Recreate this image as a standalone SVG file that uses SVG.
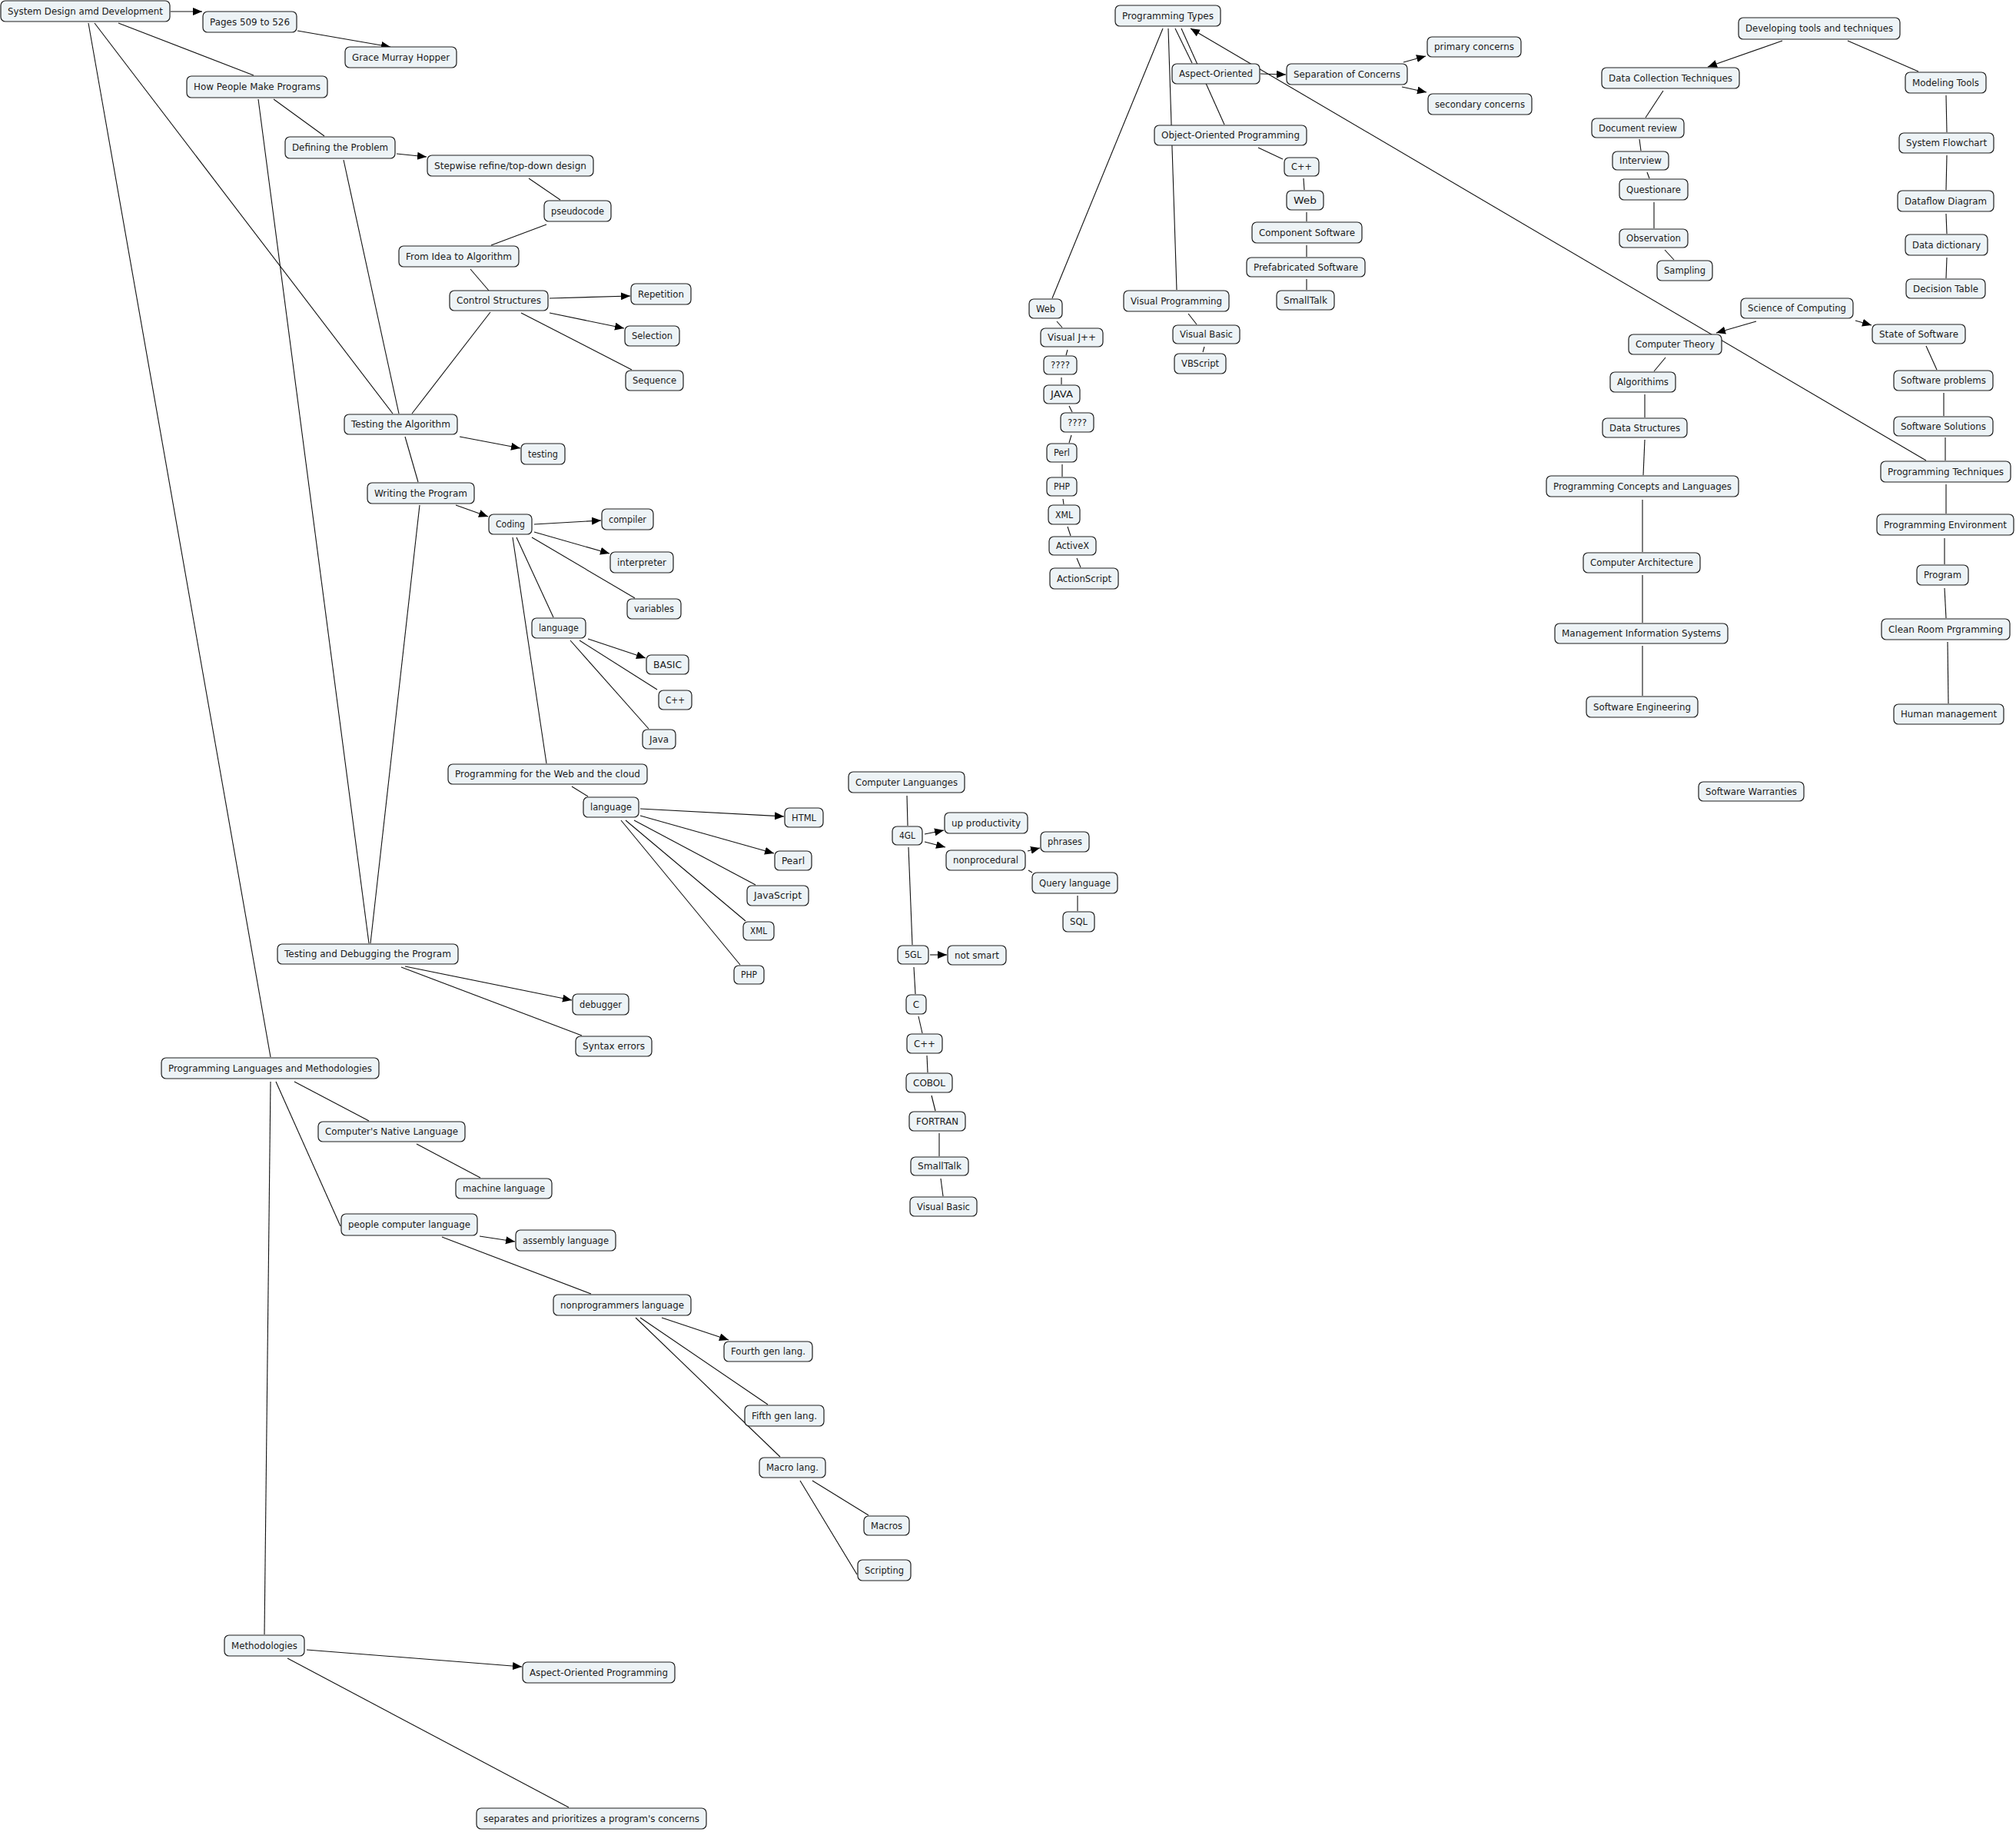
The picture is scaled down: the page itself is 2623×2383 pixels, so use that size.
<svg xmlns="http://www.w3.org/2000/svg" width="2623" height="2383" viewBox="0 0 2623 2383">
<style>
.node rect{fill:#edf3f6;stroke:#1e1e1e;stroke-width:1.2}
.node text{font-family:"DejaVu Sans","Liberation Sans",sans-serif;font-size:12px;fill:#1a1a1a;text-anchor:middle}
.links line{stroke:#111;stroke-width:1.1;fill:none}
.links line.arr{marker-end:url(#ah)}
</style>
<defs>
<marker id="ah" markerUnits="userSpaceOnUse" markerWidth="13" markerHeight="11" refX="12" refY="5" orient="auto"><path d="M0,0 L12,5 L0,10 Z" fill="#000"/></marker>
</defs>
<rect width="2623" height="2383" fill="#fff"/>
<g class="links">
<line class="arr" x1="222" y1="15" x2="263" y2="15"/>
<line class="arr" x1="387" y1="40" x2="508" y2="61"/>
<line class="arr" x1="516" y1="200" x2="555" y2="204"/>
<line class="arr" x1="715" y1="388" x2="820" y2="385"/>
<line class="arr" x1="715" y1="407" x2="812" y2="427"/>
<line class="arr" x1="598" y1="568" x2="677" y2="583"/>
<line class="arr" x1="593" y1="657" x2="635" y2="672"/>
<line class="arr" x1="695" y1="682" x2="782" y2="677"/>
<line class="arr" x1="695" y1="692" x2="793" y2="720"/>
<line class="arr" x1="765" y1="831" x2="840" y2="856"/>
<line class="arr" x1="833" y1="1052" x2="1020" y2="1062"/>
<line class="arr" x1="833" y1="1061" x2="1007" y2="1110"/>
<line class="arr" x1="527" y1="1257" x2="744" y2="1301"/>
<line class="arr" x1="624" y1="1608" x2="670" y2="1615"/>
<line class="arr" x1="861" y1="1714" x2="948" y2="1743"/>
<line class="arr" x1="399" y1="2146" x2="679" y2="2168"/>
<line class="arr" x1="1640" y1="96" x2="1673" y2="97"/>
<line class="arr" x1="1826" y1="81" x2="1855" y2="73"/>
<line class="arr" x1="1824" y1="113" x2="1856" y2="120"/>
<line class="arr" x1="2506" y1="599" x2="1549" y2="37"/>
<line class="arr" x1="2319" y1="53" x2="2222" y2="87"/>
<line class="arr" x1="2285" y1="418" x2="2233" y2="433"/>
<line class="arr" x1="2414" y1="417" x2="2435" y2="423"/>
<line class="arr" x1="1203" y1="1085" x2="1228" y2="1080"/>
<line class="arr" x1="1203" y1="1095" x2="1230" y2="1102"/>
<line class="arr" x1="1337" y1="1107" x2="1353" y2="1103"/>
<line class="arr" x1="1210" y1="1242" x2="1232" y2="1242"/>
<line x1="154" y1="30" x2="330" y2="98"/>
<line x1="123" y1="30" x2="511" y2="538"/>
<line x1="115" y1="30" x2="352" y2="1375"/>
<line x1="356" y1="129" x2="422" y2="177"/>
<line x1="336" y1="129" x2="480" y2="1227"/>
<line x1="447" y1="208" x2="519" y2="538"/>
<line x1="688" y1="232" x2="729" y2="260"/>
<line x1="711" y1="292" x2="639" y2="319"/>
<line x1="612" y1="350" x2="636" y2="378"/>
<line x1="678" y1="407" x2="822" y2="481"/>
<line x1="638" y1="406" x2="536" y2="538"/>
<line x1="527" y1="568" x2="544" y2="627"/>
<line x1="546" y1="657" x2="482" y2="1227"/>
<line x1="692" y1="699" x2="826" y2="778"/>
<line x1="672" y1="699" x2="720" y2="803"/>
<line x1="667" y1="699" x2="711" y2="993"/>
<line x1="754" y1="833" x2="855" y2="897"/>
<line x1="742" y1="833" x2="844" y2="948"/>
<line x1="744" y1="1023" x2="765" y2="1036"/>
<line x1="825" y1="1067" x2="983" y2="1151"/>
<line x1="814" y1="1067" x2="970" y2="1198"/>
<line x1="808" y1="1067" x2="963" y2="1255"/>
<line x1="522" y1="1258" x2="757" y2="1347"/>
<line x1="383" y1="1407" x2="480" y2="1458"/>
<line x1="359" y1="1407" x2="443" y2="1595"/>
<line x1="352" y1="1407" x2="344" y2="2126"/>
<line x1="542" y1="1488" x2="625" y2="1532"/>
<line x1="575" y1="1609" x2="769" y2="1683"/>
<line x1="833" y1="1714" x2="999" y2="1827"/>
<line x1="827" y1="1714" x2="1015" y2="1895"/>
<line x1="1057" y1="1926" x2="1130" y2="1971"/>
<line x1="1041" y1="1926" x2="1115" y2="2048"/>
<line x1="374" y1="2157" x2="740" y2="2351"/>
<line x1="1513" y1="37" x2="1369" y2="388"/>
<line x1="1520" y1="37" x2="1531" y2="377"/>
<line x1="1529" y1="37" x2="1551" y2="82"/>
<line x1="1537" y1="37" x2="1593" y2="162"/>
<line x1="1637" y1="192" x2="1669" y2="207"/>
<line x1="1696" y1="232" x2="1697" y2="247"/>
<line x1="1700" y1="276" x2="1700" y2="288"/>
<line x1="1700" y1="319" x2="1700" y2="334"/>
<line x1="1700" y1="363" x2="1700" y2="377"/>
<line x1="1546" y1="408" x2="1557" y2="422"/>
<line x1="1567" y1="451" x2="1565" y2="458"/>
<line x1="1375" y1="418" x2="1382" y2="426"/>
<line x1="1389" y1="455" x2="1387" y2="462"/>
<line x1="1381" y1="491" x2="1381" y2="500"/>
<line x1="1391" y1="528" x2="1395" y2="536"/>
<line x1="1394" y1="566" x2="1391" y2="576"/>
<line x1="1382" y1="604" x2="1382" y2="620"/>
<line x1="1383" y1="649" x2="1384" y2="656"/>
<line x1="1389" y1="685" x2="1393" y2="697"/>
<line x1="1401" y1="726" x2="1406" y2="738"/>
<line x1="1180" y1="1035" x2="1181" y2="1074"/>
<line x1="1338" y1="1132" x2="1343" y2="1135"/>
<line x1="1402" y1="1165" x2="1402" y2="1185"/>
<line x1="1182" y1="1102" x2="1187" y2="1229"/>
<line x1="1189" y1="1258" x2="1191" y2="1293"/>
<line x1="1195" y1="1322" x2="1200" y2="1344"/>
<line x1="1206" y1="1373" x2="1207" y2="1395"/>
<line x1="1212" y1="1425" x2="1217" y2="1445"/>
<line x1="1222" y1="1474" x2="1222" y2="1504"/>
<line x1="1224" y1="1533" x2="1227" y2="1556"/>
<line x1="2404" y1="53" x2="2496" y2="93"/>
<line x1="2164" y1="118" x2="2141" y2="153"/>
<line x1="2133" y1="181" x2="2135" y2="196"/>
<line x1="2143" y1="224" x2="2146" y2="232"/>
<line x1="2152" y1="263" x2="2152" y2="297"/>
<line x1="2166" y1="325" x2="2178" y2="338"/>
<line x1="2532" y1="124" x2="2533" y2="172"/>
<line x1="2533" y1="202" x2="2532" y2="247"/>
<line x1="2532" y1="278" x2="2533" y2="304"/>
<line x1="2533" y1="335" x2="2532" y2="362"/>
<line x1="2167" y1="465" x2="2152" y2="483"/>
<line x1="2140" y1="513" x2="2140" y2="543"/>
<line x1="2140" y1="572" x2="2138" y2="618"/>
<line x1="2137" y1="650" x2="2137" y2="718"/>
<line x1="2137" y1="748" x2="2137" y2="810"/>
<line x1="2137" y1="840" x2="2137" y2="905"/>
<line x1="2506" y1="450" x2="2520" y2="481"/>
<line x1="2529" y1="511" x2="2529" y2="541"/>
<line x1="2531" y1="569" x2="2531" y2="599"/>
<line x1="2532" y1="630" x2="2532" y2="668"/>
<line x1="2530" y1="700" x2="2530" y2="734"/>
<line x1="2530" y1="765" x2="2532" y2="804"/>
<line x1="2534" y1="835" x2="2535" y2="915"/>
</g>
<g id="n-sys" class="node"><rect x="1" y="1" width="220" height="27" rx="6"/><text x="111" y="18.8" textLength="202" lengthAdjust="spacingAndGlyphs">System Design amd Development</text></g>
<g id="n-pages" class="node"><rect x="264" y="15" width="122" height="27" rx="6"/><text x="325" y="32.8" textLength="104" lengthAdjust="spacingAndGlyphs">Pages 509 to 526</text></g>
<g id="n-grace" class="node"><rect x="449" y="61" width="145" height="27" rx="6"/><text x="521.5" y="78.8" textLength="127" lengthAdjust="spacingAndGlyphs">Grace Murray Hopper</text></g>
<g id="n-how" class="node"><rect x="243" y="99" width="183" height="28" rx="6"/><text x="334.5" y="117.3" textLength="165" lengthAdjust="spacingAndGlyphs">How People Make Programs</text></g>
<g id="n-defining" class="node"><rect x="371" y="178" width="143" height="28" rx="6"/><text x="442.5" y="196.3" textLength="125" lengthAdjust="spacingAndGlyphs">Defining the Problem</text></g>
<g id="n-stepwise" class="node"><rect x="556" y="202" width="216" height="27" rx="6"/><text x="664" y="219.8" textLength="198" lengthAdjust="spacingAndGlyphs">Stepwise refine/top-down design</text></g>
<g id="n-pseudo" class="node"><rect x="708" y="261" width="87" height="27" rx="6"/><text x="751.5" y="278.8" textLength="69" lengthAdjust="spacingAndGlyphs">pseudocode</text></g>
<g id="n-fromidea" class="node"><rect x="519" y="320" width="156" height="27" rx="6"/><text x="597" y="337.8" textLength="138" lengthAdjust="spacingAndGlyphs">From Idea to Algorithm</text></g>
<g id="n-control" class="node"><rect x="585" y="378" width="128" height="26" rx="6"/><text x="649" y="395.3" textLength="110" lengthAdjust="spacingAndGlyphs">Control Structures</text></g>
<g id="n-repetition" class="node"><rect x="821" y="369" width="78" height="27" rx="6"/><text x="860" y="386.8" textLength="60" lengthAdjust="spacingAndGlyphs">Repetition</text></g>
<g id="n-selection" class="node"><rect x="813" y="424" width="71" height="26" rx="6"/><text x="848.5" y="441.3" textLength="53" lengthAdjust="spacingAndGlyphs">Selection</text></g>
<g id="n-sequence" class="node"><rect x="814" y="482" width="75" height="26" rx="6"/><text x="851.5" y="499.3" textLength="57" lengthAdjust="spacingAndGlyphs">Sequence</text></g>
<g id="n-testalg" class="node"><rect x="448" y="539" width="147" height="26" rx="6"/><text x="521.5" y="556.3" textLength="129" lengthAdjust="spacingAndGlyphs">Testing the Algorithm</text></g>
<g id="n-testing" class="node"><rect x="678" y="577" width="57" height="27" rx="6"/><text x="706.5" y="594.8" textLength="39" lengthAdjust="spacingAndGlyphs">testing</text></g>
<g id="n-writing" class="node"><rect x="478" y="628" width="139" height="27" rx="6"/><text x="547.5" y="645.8" textLength="121" lengthAdjust="spacingAndGlyphs">Writing the Program</text></g>
<g id="n-coding" class="node"><rect x="636" y="669" width="56" height="26" rx="6"/><text x="664" y="686.3" textLength="38" lengthAdjust="spacingAndGlyphs">Coding</text></g>
<g id="n-compiler" class="node"><rect x="783" y="662" width="67" height="27" rx="6"/><text x="816.5" y="679.8" textLength="49" lengthAdjust="spacingAndGlyphs">compiler</text></g>
<g id="n-interpreter" class="node"><rect x="794" y="718" width="82" height="27" rx="6"/><text x="835" y="735.8" textLength="64" lengthAdjust="spacingAndGlyphs">interpreter</text></g>
<g id="n-variables" class="node"><rect x="816" y="779" width="70" height="26" rx="6"/><text x="851" y="796.3" textLength="52" lengthAdjust="spacingAndGlyphs">variables</text></g>
<g id="n-lang1" class="node"><rect x="692" y="804" width="70" height="26" rx="6"/><text x="727" y="821.3" textLength="52" lengthAdjust="spacingAndGlyphs">language</text></g>
<g id="n-basic" class="node"><rect x="841" y="852" width="55" height="25" rx="6"/><text x="868.5" y="868.8" textLength="37" lengthAdjust="spacingAndGlyphs">BASIC</text></g>
<g id="n-cpp1" class="node"><rect x="857" y="898" width="43" height="25" rx="6"/><text x="878.5" y="914.8" textLength="25" lengthAdjust="spacingAndGlyphs">C++</text></g>
<g id="n-java" class="node"><rect x="836" y="949" width="43" height="25" rx="6"/><text x="857.5" y="965.8" textLength="25" lengthAdjust="spacingAndGlyphs">Java</text></g>
<g id="n-webcloud" class="node"><rect x="583" y="994" width="259" height="26" rx="6"/><text x="712.5" y="1011.3" textLength="241" lengthAdjust="spacingAndGlyphs">Programming for the Web and the cloud</text></g>
<g id="n-lang2" class="node"><rect x="759" y="1037" width="72" height="26" rx="6"/><text x="795" y="1054.3" textLength="54" lengthAdjust="spacingAndGlyphs">language</text></g>
<g id="n-html" class="node"><rect x="1021" y="1051" width="50" height="25" rx="6"/><text x="1046" y="1067.8" textLength="32" lengthAdjust="spacingAndGlyphs">HTML</text></g>
<g id="n-pearl" class="node"><rect x="1008" y="1107" width="48" height="25" rx="6"/><text x="1032" y="1123.8" textLength="30" lengthAdjust="spacingAndGlyphs">Pearl</text></g>
<g id="n-javascript" class="node"><rect x="972" y="1152" width="80" height="26" rx="6"/><text x="1012" y="1169.3" textLength="62" lengthAdjust="spacingAndGlyphs">JavaScript</text></g>
<g id="n-xml1" class="node"><rect x="967" y="1199" width="40" height="24" rx="6"/><text x="987" y="1215.3" textLength="22" lengthAdjust="spacingAndGlyphs">XML</text></g>
<g id="n-php1" class="node"><rect x="955" y="1256" width="39" height="24" rx="6"/><text x="974.5" y="1272.3" textLength="21" lengthAdjust="spacingAndGlyphs">PHP</text></g>
<g id="n-testdebug" class="node"><rect x="361" y="1228" width="235" height="26" rx="6"/><text x="478.5" y="1245.3" textLength="217" lengthAdjust="spacingAndGlyphs">Testing and Debugging the Program</text></g>
<g id="n-debugger" class="node"><rect x="745" y="1293" width="73" height="27" rx="6"/><text x="781.5" y="1310.8" textLength="55" lengthAdjust="spacingAndGlyphs">debugger</text></g>
<g id="n-syntax" class="node"><rect x="749" y="1348" width="99" height="26" rx="6"/><text x="798.5" y="1365.3" textLength="81" lengthAdjust="spacingAndGlyphs">Syntax errors</text></g>
<g id="n-plm" class="node"><rect x="210" y="1376" width="283" height="27" rx="6"/><text x="351.5" y="1393.8" textLength="265" lengthAdjust="spacingAndGlyphs">Programming Languages and Methodologies</text></g>
<g id="n-cnl" class="node"><rect x="414" y="1459" width="191" height="26" rx="6"/><text x="509.5" y="1476.3" textLength="173" lengthAdjust="spacingAndGlyphs">Computer's Native Language</text></g>
<g id="n-machine" class="node"><rect x="593" y="1533" width="125" height="26" rx="6"/><text x="655.5" y="1550.3" textLength="107" lengthAdjust="spacingAndGlyphs">machine language</text></g>
<g id="n-pcl" class="node"><rect x="444" y="1579" width="177" height="28" rx="6"/><text x="532.5" y="1597.3" textLength="159" lengthAdjust="spacingAndGlyphs">people computer language</text></g>
<g id="n-assembly" class="node"><rect x="671" y="1600" width="130" height="27" rx="6"/><text x="736" y="1617.8" textLength="112" lengthAdjust="spacingAndGlyphs">assembly language</text></g>
<g id="n-nonprog" class="node"><rect x="720" y="1684" width="179" height="27" rx="6"/><text x="809.5" y="1701.8" textLength="161" lengthAdjust="spacingAndGlyphs">nonprogrammers language</text></g>
<g id="n-fourth" class="node"><rect x="942" y="1745" width="115" height="26" rx="6"/><text x="999.5" y="1762.3" textLength="97" lengthAdjust="spacingAndGlyphs">Fourth gen lang.</text></g>
<g id="n-fifth" class="node"><rect x="969" y="1828" width="103" height="27" rx="6"/><text x="1020.5" y="1845.8" textLength="85" lengthAdjust="spacingAndGlyphs">Fifth gen lang.</text></g>
<g id="n-macro" class="node"><rect x="988" y="1896" width="86" height="26" rx="6"/><text x="1031" y="1913.3" textLength="68" lengthAdjust="spacingAndGlyphs">Macro lang.</text></g>
<g id="n-macros" class="node"><rect x="1124" y="1972" width="59" height="25" rx="6"/><text x="1153.5" y="1988.8" textLength="41" lengthAdjust="spacingAndGlyphs">Macros</text></g>
<g id="n-scripting" class="node"><rect x="1116" y="2029" width="69" height="27" rx="6"/><text x="1150.5" y="2046.8" textLength="51" lengthAdjust="spacingAndGlyphs">Scripting</text></g>
<g id="n-meth" class="node"><rect x="292" y="2127" width="104" height="27" rx="6"/><text x="344" y="2144.8" textLength="86" lengthAdjust="spacingAndGlyphs">Methodologies</text></g>
<g id="n-aop" class="node"><rect x="680" y="2162" width="198" height="27" rx="6"/><text x="779" y="2179.8" textLength="180" lengthAdjust="spacingAndGlyphs">Aspect-Oriented Programming</text></g>
<g id="n-separates" class="node"><rect x="620" y="2352" width="299" height="27" rx="6"/><text x="769.5" y="2369.8" textLength="281" lengthAdjust="spacingAndGlyphs">separates and prioritizes a program's concerns</text></g>
<g id="n-ptypes" class="node"><rect x="1451" y="7" width="137" height="27" rx="6"/><text x="1519.5" y="24.8" textLength="119" lengthAdjust="spacingAndGlyphs">Programming Types</text></g>
<g id="n-aspect" class="node"><rect x="1525" y="83" width="114" height="26" rx="6"/><text x="1582" y="100.3" textLength="96" lengthAdjust="spacingAndGlyphs">Aspect-Oriented</text></g>
<g id="n-sepconc" class="node"><rect x="1674" y="83" width="157" height="27" rx="6"/><text x="1752.5" y="100.8" textLength="139" lengthAdjust="spacingAndGlyphs">Separation of Concerns</text></g>
<g id="n-primary" class="node"><rect x="1857" y="48" width="122" height="26" rx="6"/><text x="1918" y="65.3" textLength="104" lengthAdjust="spacingAndGlyphs">primary concerns</text></g>
<g id="n-secondary" class="node"><rect x="1858" y="122" width="135" height="27" rx="6"/><text x="1925.5" y="139.8" textLength="117" lengthAdjust="spacingAndGlyphs">secondary concerns</text></g>
<g id="n-oop" class="node"><rect x="1502" y="163" width="198" height="26" rx="6"/><text x="1601" y="180.3" textLength="180" lengthAdjust="spacingAndGlyphs">Object-Oriented Programming</text></g>
<g id="n-cpp2" class="node"><rect x="1671" y="205" width="45" height="24" rx="6"/><text x="1693.5" y="221.3" textLength="27" lengthAdjust="spacingAndGlyphs">C++</text></g>
<g id="n-web2" class="node"><rect x="1674" y="248" width="48" height="25" rx="6"/><text x="1698" y="264.8" textLength="30" lengthAdjust="spacingAndGlyphs">Web</text></g>
<g id="n-component" class="node"><rect x="1629" y="289" width="143" height="27" rx="6"/><text x="1700.5" y="306.8" textLength="125" lengthAdjust="spacingAndGlyphs">Component Software</text></g>
<g id="n-prefab" class="node"><rect x="1622" y="335" width="154" height="25" rx="6"/><text x="1699" y="351.8" textLength="136" lengthAdjust="spacingAndGlyphs">Prefabricated Software</text></g>
<g id="n-smalltalk1" class="node"><rect x="1661" y="378" width="75" height="25" rx="6"/><text x="1698.5" y="394.8" textLength="57" lengthAdjust="spacingAndGlyphs">SmallTalk</text></g>
<g id="n-visprog" class="node"><rect x="1462" y="378" width="137" height="27" rx="6"/><text x="1530.5" y="395.8" textLength="119" lengthAdjust="spacingAndGlyphs">Visual Programming</text></g>
<g id="n-visbasic1" class="node"><rect x="1526" y="423" width="87" height="24" rx="6"/><text x="1569.5" y="439.3" textLength="69" lengthAdjust="spacingAndGlyphs">Visual Basic</text></g>
<g id="n-vbscript" class="node"><rect x="1528" y="460" width="67" height="26" rx="6"/><text x="1561.5" y="477.3" textLength="49" lengthAdjust="spacingAndGlyphs">VBScript</text></g>
<g id="n-web1" class="node"><rect x="1339" y="389" width="43" height="25" rx="6"/><text x="1360.5" y="405.8" textLength="25" lengthAdjust="spacingAndGlyphs">Web</text></g>
<g id="n-vjpp" class="node"><rect x="1354" y="427" width="81" height="24" rx="6"/><text x="1394.5" y="443.3" textLength="63" lengthAdjust="spacingAndGlyphs">Visual J++</text></g>
<g id="n-q1" class="node"><rect x="1358" y="463" width="43" height="24" rx="6"/><text x="1379.5" y="479.3" textLength="25" lengthAdjust="spacingAndGlyphs">????</text></g>
<g id="n-java2" class="node"><rect x="1358" y="501" width="47" height="24" rx="6"/><text x="1381.5" y="517.3" textLength="29" lengthAdjust="spacingAndGlyphs">JAVA</text></g>
<g id="n-q2" class="node"><rect x="1380" y="537" width="43" height="25" rx="6"/><text x="1401.5" y="553.8" textLength="25" lengthAdjust="spacingAndGlyphs">????</text></g>
<g id="n-perl" class="node"><rect x="1362" y="577" width="39" height="24" rx="6"/><text x="1381.5" y="593.3" textLength="21" lengthAdjust="spacingAndGlyphs">Perl</text></g>
<g id="n-php2" class="node"><rect x="1362" y="621" width="39" height="24" rx="6"/><text x="1381.5" y="637.3" textLength="21" lengthAdjust="spacingAndGlyphs">PHP</text></g>
<g id="n-xml2" class="node"><rect x="1364" y="657" width="41" height="25" rx="6"/><text x="1384.5" y="673.8" textLength="23" lengthAdjust="spacingAndGlyphs">XML</text></g>
<g id="n-activex" class="node"><rect x="1365" y="698" width="61" height="24" rx="6"/><text x="1395.5" y="714.3" textLength="43" lengthAdjust="spacingAndGlyphs">ActiveX</text></g>
<g id="n-actionscript" class="node"><rect x="1366" y="739" width="89" height="27" rx="6"/><text x="1410.5" y="756.8" textLength="71" lengthAdjust="spacingAndGlyphs">ActionScript</text></g>
<g id="n-complang" class="node"><rect x="1104" y="1004" width="151" height="27" rx="6"/><text x="1179.5" y="1021.8" textLength="133" lengthAdjust="spacingAndGlyphs">Computer Languanges</text></g>
<g id="n-4gl" class="node"><rect x="1161" y="1075" width="39" height="24" rx="6"/><text x="1180.5" y="1091.3" textLength="21" lengthAdjust="spacingAndGlyphs">4GL</text></g>
<g id="n-upprod" class="node"><rect x="1229" y="1057" width="108" height="27" rx="6"/><text x="1283" y="1074.8" textLength="90" lengthAdjust="spacingAndGlyphs">up productivity</text></g>
<g id="n-nonproc" class="node"><rect x="1231" y="1106" width="103" height="26" rx="6"/><text x="1282.5" y="1123.3" textLength="85" lengthAdjust="spacingAndGlyphs">nonprocedural</text></g>
<g id="n-phrases" class="node"><rect x="1354" y="1082" width="63" height="26" rx="6"/><text x="1385.5" y="1099.3" textLength="45" lengthAdjust="spacingAndGlyphs">phrases</text></g>
<g id="n-query" class="node"><rect x="1343" y="1135" width="111" height="27" rx="6"/><text x="1398.5" y="1152.8" textLength="93" lengthAdjust="spacingAndGlyphs">Query language</text></g>
<g id="n-sql" class="node"><rect x="1383" y="1186" width="41" height="26" rx="6"/><text x="1403.5" y="1203.3" textLength="23" lengthAdjust="spacingAndGlyphs">SQL</text></g>
<g id="n-5gl" class="node"><rect x="1168" y="1230" width="40" height="24" rx="6"/><text x="1188" y="1246.3" textLength="22" lengthAdjust="spacingAndGlyphs">5GL</text></g>
<g id="n-notsmart" class="node"><rect x="1233" y="1230" width="76" height="25" rx="6"/><text x="1271" y="1246.8" textLength="58" lengthAdjust="spacingAndGlyphs">not smart</text></g>
<g id="n-c" class="node"><rect x="1179" y="1294" width="26" height="25" rx="6"/><text x="1192" y="1310.8">C</text></g>
<g id="n-cpp3" class="node"><rect x="1180" y="1345" width="46" height="25" rx="6"/><text x="1203" y="1361.8" textLength="28" lengthAdjust="spacingAndGlyphs">C++</text></g>
<g id="n-cobol" class="node"><rect x="1179" y="1396" width="60" height="25" rx="6"/><text x="1209" y="1412.8" textLength="42" lengthAdjust="spacingAndGlyphs">COBOL</text></g>
<g id="n-fortran" class="node"><rect x="1183" y="1446" width="73" height="25" rx="6"/><text x="1219.5" y="1462.8" textLength="55" lengthAdjust="spacingAndGlyphs">FORTRAN</text></g>
<g id="n-smalltalk2" class="node"><rect x="1185" y="1505" width="75" height="24" rx="6"/><text x="1222.5" y="1521.3" textLength="57" lengthAdjust="spacingAndGlyphs">SmallTalk</text></g>
<g id="n-visbasic2" class="node"><rect x="1184" y="1557" width="87" height="25" rx="6"/><text x="1227.5" y="1573.8" textLength="69" lengthAdjust="spacingAndGlyphs">Visual Basic</text></g>
<g id="n-devtools" class="node"><rect x="2262" y="23" width="210" height="28" rx="6"/><text x="2367" y="41.3" textLength="192" lengthAdjust="spacingAndGlyphs">Developing tools and techniques</text></g>
<g id="n-dct" class="node"><rect x="2084" y="88" width="179" height="27" rx="6"/><text x="2173.5" y="105.8" textLength="161" lengthAdjust="spacingAndGlyphs">Data Collection Techniques</text></g>
<g id="n-modeling" class="node"><rect x="2479" y="94" width="105" height="27" rx="6"/><text x="2531.5" y="111.8" textLength="87" lengthAdjust="spacingAndGlyphs">Modeling Tools</text></g>
<g id="n-docreview" class="node"><rect x="2071" y="154" width="120" height="25" rx="6"/><text x="2131" y="170.8" textLength="102" lengthAdjust="spacingAndGlyphs">Document review</text></g>
<g id="n-interview" class="node"><rect x="2098" y="197" width="73" height="24" rx="6"/><text x="2134.5" y="213.3" textLength="55" lengthAdjust="spacingAndGlyphs">Interview</text></g>
<g id="n-questionare" class="node"><rect x="2107" y="233" width="89" height="27" rx="6"/><text x="2151.5" y="250.8" textLength="71" lengthAdjust="spacingAndGlyphs">Questionare</text></g>
<g id="n-observation" class="node"><rect x="2107" y="298" width="89" height="24" rx="6"/><text x="2151.5" y="314.3" textLength="71" lengthAdjust="spacingAndGlyphs">Observation</text></g>
<g id="n-sampling" class="node"><rect x="2156" y="339" width="72" height="26" rx="6"/><text x="2192" y="356.3" textLength="54" lengthAdjust="spacingAndGlyphs">Sampling</text></g>
<g id="n-sysflow" class="node"><rect x="2471" y="173" width="123" height="26" rx="6"/><text x="2532.5" y="190.3" textLength="105" lengthAdjust="spacingAndGlyphs">System Flowchart</text></g>
<g id="n-dataflow" class="node"><rect x="2469" y="248" width="125" height="27" rx="6"/><text x="2531.5" y="265.8" textLength="107" lengthAdjust="spacingAndGlyphs">Dataflow Diagram</text></g>
<g id="n-datadict" class="node"><rect x="2479" y="305" width="107" height="27" rx="6"/><text x="2532.5" y="322.8" textLength="89" lengthAdjust="spacingAndGlyphs">Data dictionary</text></g>
<g id="n-decision" class="node"><rect x="2480" y="363" width="103" height="25" rx="6"/><text x="2531.5" y="379.8" textLength="85" lengthAdjust="spacingAndGlyphs">Decision Table</text></g>
<g id="n-soc" class="node"><rect x="2265" y="388" width="146" height="26" rx="6"/><text x="2338" y="405.3" textLength="128" lengthAdjust="spacingAndGlyphs">Science of Computing</text></g>
<g id="n-sos" class="node"><rect x="2436" y="422" width="121" height="25" rx="6"/><text x="2496.5" y="438.8" textLength="103" lengthAdjust="spacingAndGlyphs">State of Software</text></g>
<g id="n-ctheory" class="node"><rect x="2119" y="435" width="121" height="26" rx="6"/><text x="2179.5" y="452.3" textLength="103" lengthAdjust="spacingAndGlyphs">Computer Theory</text></g>
<g id="n-algo" class="node"><rect x="2095" y="484" width="85" height="26" rx="6"/><text x="2137.5" y="501.3" textLength="67" lengthAdjust="spacingAndGlyphs">Algorithims</text></g>
<g id="n-ds" class="node"><rect x="2085" y="544" width="110" height="25" rx="6"/><text x="2140" y="560.8" textLength="92" lengthAdjust="spacingAndGlyphs">Data Structures</text></g>
<g id="n-pcl2" class="node"><rect x="2012" y="619" width="250" height="27" rx="6"/><text x="2137" y="636.8" textLength="232" lengthAdjust="spacingAndGlyphs">Programming Concepts and Languages</text></g>
<g id="n-carch" class="node"><rect x="2060" y="719" width="152" height="26" rx="6"/><text x="2136" y="736.3" textLength="134" lengthAdjust="spacingAndGlyphs">Computer Architecture</text></g>
<g id="n-mis" class="node"><rect x="2023" y="811" width="225" height="26" rx="6"/><text x="2135.5" y="828.3" textLength="207" lengthAdjust="spacingAndGlyphs">Management Information Systems</text></g>
<g id="n-se" class="node"><rect x="2064" y="906" width="145" height="27" rx="6"/><text x="2136.5" y="923.8" textLength="127" lengthAdjust="spacingAndGlyphs">Software Engineering</text></g>
<g id="n-sprob" class="node"><rect x="2464" y="482" width="129" height="26" rx="6"/><text x="2528.5" y="499.3" textLength="111" lengthAdjust="spacingAndGlyphs">Software problems</text></g>
<g id="n-ssol" class="node"><rect x="2464" y="542" width="129" height="25" rx="6"/><text x="2528.5" y="558.8" textLength="111" lengthAdjust="spacingAndGlyphs">Software Solutions</text></g>
<g id="n-ptech" class="node"><rect x="2447" y="600" width="169" height="27" rx="6"/><text x="2531.5" y="617.8" textLength="151" lengthAdjust="spacingAndGlyphs">Programming Techniques</text></g>
<g id="n-penv" class="node"><rect x="2442" y="669" width="178" height="27" rx="6"/><text x="2531" y="686.8" textLength="160" lengthAdjust="spacingAndGlyphs">Programming Environment</text></g>
<g id="n-program" class="node"><rect x="2494" y="735" width="67" height="26" rx="6"/><text x="2527.5" y="752.3" textLength="49" lengthAdjust="spacingAndGlyphs">Program</text></g>
<g id="n-clean" class="node"><rect x="2448" y="805" width="167" height="27" rx="6"/><text x="2531.5" y="822.8" textLength="149" lengthAdjust="spacingAndGlyphs">Clean Room Prgramming</text></g>
<g id="n-human" class="node"><rect x="2464" y="916" width="143" height="26" rx="6"/><text x="2535.5" y="933.3" textLength="125" lengthAdjust="spacingAndGlyphs">Human management</text></g>
<g id="n-warranties" class="node"><rect x="2210" y="1017" width="137" height="25" rx="6"/><text x="2278.5" y="1033.8" textLength="119" lengthAdjust="spacingAndGlyphs">Software Warranties</text></g>
</svg>
